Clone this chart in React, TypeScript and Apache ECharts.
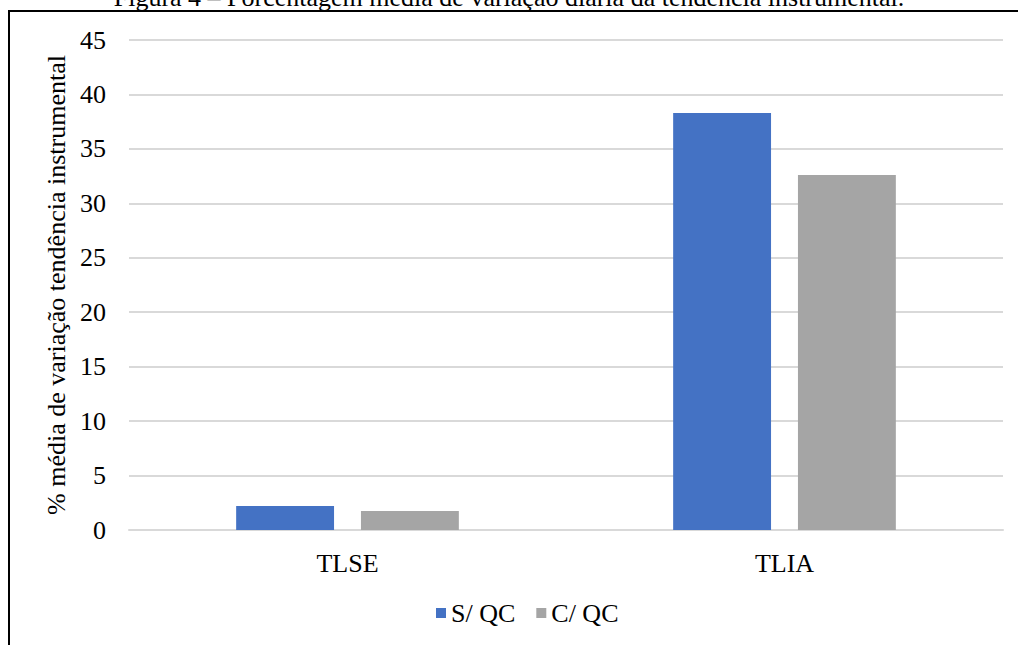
import React, { useEffect, useRef } from "react";
import * as echarts from "echarts";

const categories = ["TLSE", "TLIA"];
const seriesNames = ["S/ QC", "C/ QC"];
const semQC = [2.2, 38.3];
const comQC = [1.75, 32.6];
const yTicks = { min: 0, max: 45, interval: 5 };

const titleText = "Figura 4 – Porcentagem média de variação diária da tendência instrumental.";
const yAxisName = "% média de variação tendência instrumental";

const FONT = "'Liberation Serif', 'Times New Roman', serif";
const FS = 26;

export default function App() {
  const ref = useRef<HTMLDivElement>(null);

  useEffect(() => {
    if (!ref.current) return;
    const chart = echarts.init(ref.current, null, { renderer: "svg" });
    chart.setOption({
      animation: false,
      backgroundColor: "#ffffff",
      title: {
        text: titleText,
        left: "center",
        top: -21,
        textStyle: { fontFamily: FONT, fontSize: FS, fontWeight: "normal", color: "#000" },
      },
      graphic: [
        {
          type: "rect",
          shape: { x: 9, y: 11, width: 1030, height: 660 },
          style: { fill: "none", stroke: "#000", lineWidth: 2 },
          silent: true,
        },
      ],
      legend: {
        bottom: 14,
        left: 431,
        itemWidth: 10,
        itemHeight: 10,
        itemGap: 21,
        icon: "rect",
        textStyle: { fontFamily: FONT, fontSize: FS, color: "#000" },
        data: seriesNames,
      },
      grid: { left: 129, right: 15, top: 40, bottom: 115, containLabel: false },
      xAxis: {
        type: "category",
        data: categories,
        axisLine: { lineStyle: { color: "#D9D9D9", width: 2 } },
        axisTick: { show: false },
        axisLabel: { fontFamily: FONT, fontSize: FS, color: "#000", margin: 20 },
      },
      yAxis: {
        type: "value",
        min: yTicks.min,
        max: yTicks.max,
        interval: yTicks.interval,
        name: yAxisName,
        nameLocation: "middle",
        nameGap: 54,
        nameTextStyle: { fontFamily: FONT, fontSize: FS, color: "#000" },
        axisLine: { show: false },
        axisTick: { show: false },
        axisLabel: { fontFamily: FONT, fontSize: FS, color: "#000", margin: 23 },
        splitLine: { lineStyle: { color: "#D9D9D9", width: 2 } },
      },
      series: [
        {
          name: seriesNames[0],
          type: "bar",
          data: semQC,
          barWidth: "22.4%",
          barGap: "27.5%",
          itemStyle: { color: "#4472C4" },
        },
        {
          name: seriesNames[1],
          type: "bar",
          data: comQC,
          barWidth: "22.4%",
          itemStyle: { color: "#A5A5A5" },
        },
      ],
    });
    return () => chart.dispose();
  }, []);

  return (
    <div
      ref={ref}
      style={{ position: "fixed", left: 0, top: 0, width: 1018, height: 645 }}
    />
  );
}
